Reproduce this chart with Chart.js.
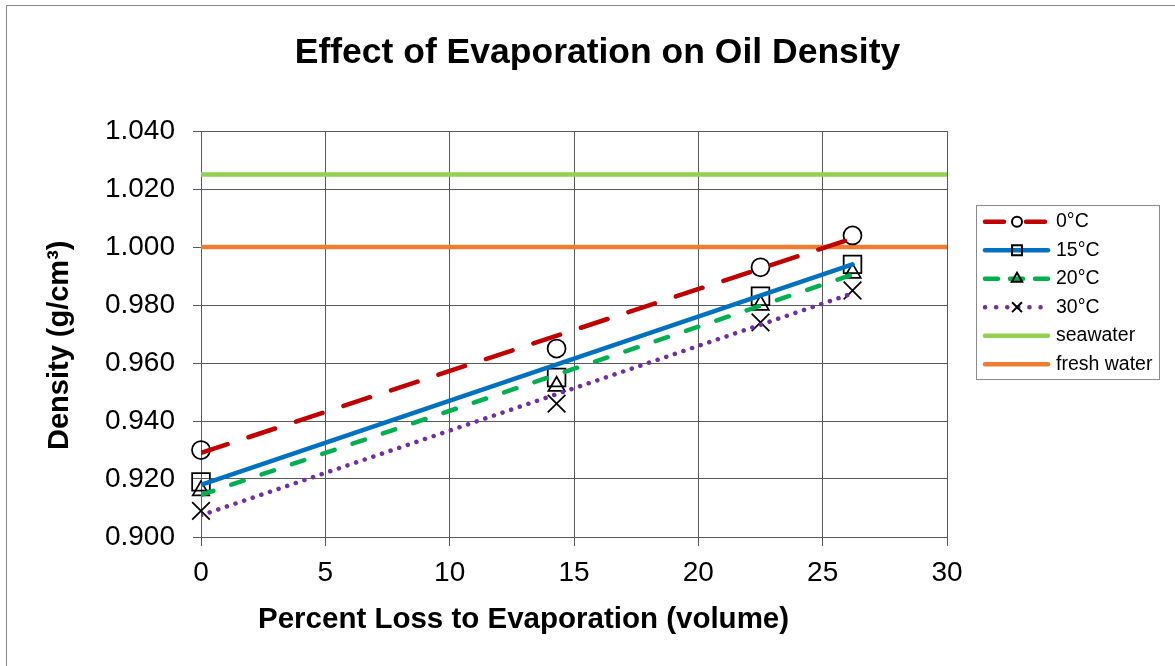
<!DOCTYPE html>
<html>
<head>
<meta charset="utf-8">
<script src="https://cdn.jsdelivr.net/npm/chart.js"></script>
<style>
  html, body { margin: 0; padding: 0; background: #fff; }
  #wrap { width: 1175px; height: 666px; position: relative; }
</style>
</head>
<body>
<div id="wrap"><canvas id="densityChart"></canvas></div>
<script>
// measured densities (g/cm3) vs. percent loss to evaporation
var percentLoss = [0, 14.3, 22.5, 26.2];
var density0C  = [0.930, 0.965, 0.993, 1.004];
var density15C = [0.919, 0.955, 0.983, 0.994];
var density20C = [0.916, 0.952, 0.980, 0.991];
var density30C = [0.909, 0.946, 0.974, 0.985];

// linear trend lines, end points
var trendLoss = [0, 26.2];
var trend0C  = [0.929, 1.003];
var trend15C = [0.918, 0.994];
var trend20C = [0.9145, 0.9905];
var trend30C = [0.9075, 0.984];

// reference water densities
var waterLoss = [0, 30];
var seawaterDensity = [1.025, 1.025];
var freshWaterDensity = [1.000, 1.000];

var seriesLabels = ['0°C', '15°C', '20°C', '30°C'];
var waterLabels = ['seawater', 'fresh water'];
var xTickValues = [0, 5, 10, 15, 20, 25, 30];
var yTickValues = [0.900, 0.920, 0.940, 0.960, 0.980, 1.000, 1.020, 1.040];

// styles
var lineColors = ['#C00000', '#0070C0', '#00B050', '#7030A0'];
var lineDashes = [[28, 22], [], [13, 19], [0.1, 9]];
var legendDashes = [[19, 22], [], [13, 12], [0.1, 11]];
var markerShapes = ['circle', 'rect', 'triangle', 'crossRot'];
var markerSizes = [9, 12.5, 9.5, 12.5];
var legendMarkerSizes = [5, 7, 6, 7];
var waterColors = ['#92D050', '#ED7D31'];
var FONT = "'Liberation Sans', Arial, sans-serif";
var GRID = '#595959';

function toPoints(xs, ys) {
    var pts = [];
    for (var i = 0; i < xs.length; i++) {
        pts.push({x: xs[i], y: ys[i]});
    }
    return pts;
}

var measured = [density0C, density15C, density20C, density30C];
var trends = [trend0C, trend15C, trend20C, trend30C];
var waters = [seawaterDensity, freshWaterDensity];

var datasets = [];
for (var i = 0; i < seriesLabels.length; i++) {
    datasets.push({
        label: seriesLabels[i] + ' trend',
        data: toPoints(trendLoss, trends[i]),
        showLine: true,
        borderColor: lineColors[i],
        borderWidth: 4.5,
        borderDash: lineDashes[i],
        borderCapStyle: 'round',
        pointRadius: 0,
        order: 1
    });
    datasets.push({
        label: seriesLabels[i],
        data: toPoints(percentLoss, measured[i]),
        showLine: false,
        pointStyle: markerShapes[i],
        pointRadius: markerSizes[i],
        pointBorderColor: '#000',
        pointBackgroundColor: 'rgba(0,0,0,0)',
        pointBorderWidth: 1.75,
        clip: false,
        order: 2
    });
}
for (var w = 0; w < waterLabels.length; w++) {
    datasets.push({
        label: waterLabels[w],
        data: toPoints(waterLoss, waters[w]),
        showLine: true,
        borderColor: waterColors[w],
        borderWidth: 4.5,
        pointRadius: 0,
        order: 3
    });
}

// titles, legend and outer frame
var decorations = {
    id: 'decorations',
    afterDraw: function(chart) {
        var ctx = chart.ctx;
        ctx.save();

        ctx.strokeStyle = '#8a8a8a';
        ctx.lineWidth = 1;
        ctx.strokeRect(6.5, 5.5, 1300, 800);

        ctx.fillStyle = '#000';
        ctx.textBaseline = 'alphabetic';
        ctx.textAlign = 'center';
        ctx.font = 'bold 35.5px ' + FONT;
        ctx.fillText('Effect of Evaporation on Oil Density', 597.5, 63);

        ctx.textAlign = 'left';
        ctx.font = 'bold 29.5px ' + FONT;
        ctx.fillText('Percent Loss to Evaporation (volume)', 258, 628);

        ctx.save();
        ctx.translate(67.5, 450);
        ctx.rotate(-Math.PI / 2);
        ctx.font = 'bold 29px ' + FONT;
        ctx.fillText('Density (g/cm\u00B3)', 0, 0);
        ctx.restore();

        // legend
        ctx.strokeStyle = '#8a8a8a';
        ctx.strokeRect(976.5, 205.5, 183, 174);
        var rowY = 221.7, rowStep = 28.5;
        var x0 = 985, x1 = 1048, mx = 1017;
        ctx.font = '19.5px ' + FONT;
        ctx.textBaseline = 'middle';
        for (var k = 0; k < seriesLabels.length + waterLabels.length; k++) {
            var y = rowY + k * rowStep;
            var isSeries = k < seriesLabels.length;
            ctx.save();
            ctx.lineWidth = 4.5;
            ctx.lineCap = 'round';
            ctx.strokeStyle = isSeries ? lineColors[k] : waterColors[k - seriesLabels.length];
            ctx.setLineDash(isSeries ? legendDashes[k] : []);
            ctx.beginPath();
            ctx.moveTo(x0, y);
            ctx.lineTo(x1, y);
            ctx.stroke();
            ctx.restore();
            if (isSeries) {
                ctx.save();
                ctx.strokeStyle = '#000';
                ctx.fillStyle = 'rgba(0,0,0,0)';
                ctx.lineWidth = 2;
                Chart.helpers.drawPoint(ctx, {
                    pointStyle: markerShapes[k],
                    radius: legendMarkerSizes[k],
                    borderWidth: 2,
                    rotation: 0
                }, mx, y);
                ctx.restore();
            }
            ctx.fillStyle = '#000';
            ctx.fillText(isSeries ? seriesLabels[k] : waterLabels[k - seriesLabels.length], 1056, y);
        }
        ctx.restore();
    }
};

new Chart(document.getElementById('densityChart'), {
    type: 'scatter',
    data: { datasets: datasets },
    options: {
        responsive: true,
        maintainAspectRatio: false,
        animation: false,
        events: [],
        layout: { padding: { left: 0, top: 131, right: 228, bottom: 0 } },
        plugins: {
            legend: { display: false },
            title: { display: false },
            tooltip: { enabled: false }
        },
        scales: {
            x: {
                type: 'linear',
                min: 0,
                max: 30,
                afterBuildTicks: function(scale) {
                    scale.ticks = xTickValues.map(function(v) { return {value: v}; });
                },
                afterFit: function(scale) { scale.height = 129; },
                grid: { color: GRID, lineWidth: 1, tickLength: 9 },
                border: { color: GRID, width: 1 },
                ticks: {
                    color: '#000',
                    padding: 10,
                    maxRotation: 0,
                    font: { family: FONT, size: 28 }
                }
            },
            y: {
                type: 'linear',
                min: 0.9,
                max: 1.04,
                afterBuildTicks: function(scale) {
                    scale.ticks = yTickValues.map(function(v) { return {value: v}; });
                },
                afterFit: function(scale) { scale.width = 201; },
                grid: { color: GRID, lineWidth: 1, tickLength: 8 },
                border: { color: GRID, width: 1 },
                ticks: {
                    color: '#000',
                    padding: 18,
                    font: { family: FONT, size: 28 },
                    callback: function(value) { return value.toFixed(3); }
                }
            }
        }
    },
    plugins: [decorations]
});
</script>
</body>
</html>
